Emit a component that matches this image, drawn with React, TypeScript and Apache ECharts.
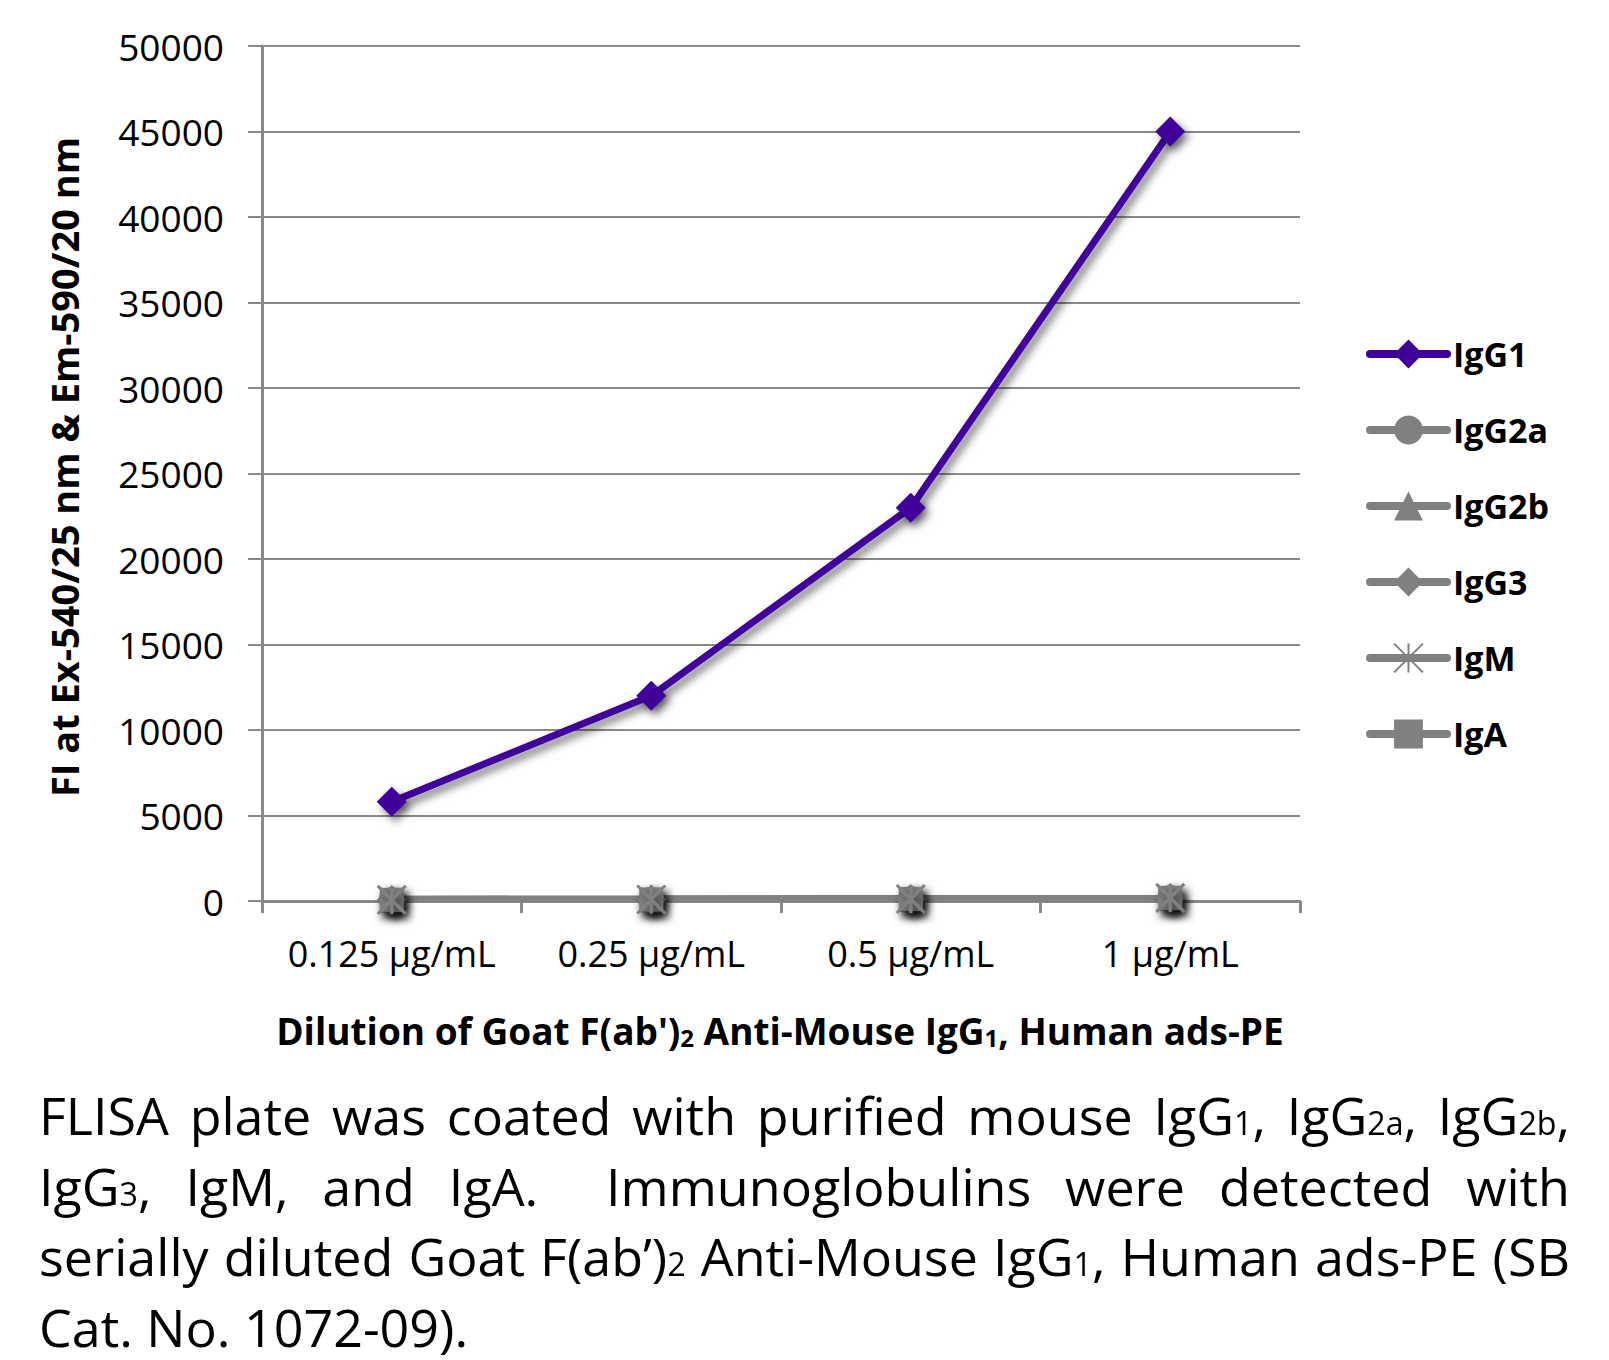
import React, { useEffect, useRef } from "react";
import * as echarts from "echarts";

const categories = ["0.125 µg/mL", "0.25 µg/mL", "0.5 µg/mL", "1 µg/mL"];
const igg1 = [5800, 12000, 23000, 45000];
const igg2a = [60, 80, 110, 170];
const igg2b = [70, 90, 120, 180];
const igg3 = [60, 85, 115, 175];
const igm = [65, 90, 120, 180];
const iga = [70, 95, 125, 185];
const yTicks = { min: 0, max: 50000, interval: 5000 };

const GRAY = "#808080";
const PURPLE = "#3F0099";
const FONT = "'Open Sans', 'Noto Sans', sans-serif";

const shadow = {
  shadowColor: "rgba(0,0,0,0.55)",
  shadowBlur: 8,
  shadowOffsetX: 4,
  shadowOffsetY: 5,
};

function graySeries(name: string, data: number[], symbol: string, size: number, extraItem?: any) {
  return {
    name,
    type: "line",
    data,
    symbol,
    symbolSize: size,
    lineStyle: { color: GRAY, width: 8, ...shadow },
    itemStyle: { color: GRAY, ...shadow, ...(extraItem || {}) },
    z: 2,
  };
}

const noShadow = { shadowBlur: 0, shadowColor: "transparent", shadowOffsetX: 0, shadowOffsetY: 0 };

export default function App() {
  const ref = useRef<HTMLDivElement>(null);
  useEffect(() => {
    if (!ref.current) return;
    const chart = echarts.init(ref.current, undefined, { renderer: "svg" });
    chart.setOption({
      animation: false,
      backgroundColor: "#ffffff",
      grid: { left: 262, right: 309, top: 46, bottom: 459, containLabel: false },
      xAxis: {
        type: "category",
        data: categories,
        boundaryGap: true,
        axisLine: { show: true, lineStyle: { color: "#898989", width: 3 } },
        axisTick: { show: true, interval: 0, length: 12, lineStyle: { color: "#898989", width: 3 } },
        axisLabel: { interval: 0, hideOverlap: false, fontSize: 36, color: "#000", fontFamily: FONT, margin: 34 },
      },
      yAxis: {
        type: "value",
        min: yTicks.min,
        max: yTicks.max,
        interval: yTicks.interval,
        axisLine: { show: true, lineStyle: { color: "#898989", width: 3 } },
        axisTick: { show: true, length: 14, lineStyle: { color: "#898989", width: 2 } },
        splitLine: { show: true, lineStyle: { color: "#898989", width: 2 } },
        axisLabel: {
          fontSize: 37,
          color: "#000",
          fontFamily: FONT,
          margin: 38,
          formatter: (v: number) => String(v),
        },
      },
      legend: {
        orient: "vertical",
        left: 1361,
        top: 328,
        padding: 5,
        itemWidth: 77,
        itemHeight: 36,
        itemGap: 34,
        textStyle: {
          fontSize: 34,
          fontWeight: "bold",
          color: "#000",
          fontFamily: FONT,
          lineHeight: 42,
          padding: [0, 0, 0, 1],
        },
        lineStyle: { width: 8, cap: "round", ...noShadow },
        itemStyle: { ...noShadow },
        data: ["IgG1", "IgG2a", "IgG2b", "IgG3", "IgM", "IgA"],
      },
      graphic: [
        {
          type: "text",
          x: 64,
          y: 467,
          rotation: Math.PI / 2,
          style: {
            text: "FI at Ex-540/25 nm & Em-590/20 nm",
            fontSize: 38,
            fontWeight: "bold",
            fontFamily: FONT,
            fill: "#000",
            align: "center",
            verticalAlign: "middle",
          },
        },
        {
          type: "text",
          x: 780,
          y: 1026,
          style: {
            text: "{a|Dilution of Goat F(ab')}{s|2}{a| Anti-Mouse IgG}{s|1}{a|, Human ads-PE}",
            align: "center",
            verticalAlign: "middle",
            rich: {
              a: { fontSize: 37, fontWeight: "bold", fontFamily: FONT, fill: "#000", verticalAlign: "bottom", lineHeight: 46 },
              s: { fontSize: 24, fontWeight: "bold", fontFamily: FONT, fill: "#000", verticalAlign: "bottom", lineHeight: 40 },
            },
          },
        },
      ],
      series: [
        graySeries("IgG2a", igg2a, "circle", 26),
        graySeries("IgG2b", igg2b, "triangle", 26),
        graySeries("IgG3", igg3, "diamond", 30),
        graySeries("IgA", iga, "rect", 24),
        graySeries("IgM", igm, "path://M0,0L20,20M20,0L0,20M10,0L10,20", 28, {
          color: "rgba(0,0,0,0)",
          borderColor: GRAY,
          borderWidth: 3,
        }),
        {
          name: "IgG1",
          type: "line",
          data: igg1,
          symbol: "diamond",
          symbolSize: 30,
          lineStyle: { color: PURPLE, width: 7, ...shadow },
          itemStyle: { color: PURPLE, ...shadow },
          z: 5,
        },
      ],
    });
    return () => chart.dispose();
  }, []);

  const capStyle: React.CSSProperties = {
    whiteSpace: "nowrap",
    textAlign: "justify",
    textAlignLast: "justify" as any,
    height: 70.5,
    lineHeight: "70.5px",
  };
  const sub: React.CSSProperties = { fontSize: "0.62em" };

  return (
    <div style={{ position: "fixed", left: 0, top: 0, width: 1609, height: 1360, background: "#fff" }}>
      <div ref={ref} style={{ position: "absolute", left: 0, top: 0, width: 1609, height: 1360 }} />
      <div
        style={{
          position: "absolute",
          left: 39,
          top: 1080,
          width: 1531,
          fontFamily: "'Open Sans', 'Noto Sans', sans-serif",
          fontSize: 52,
          color: "#000",
        }}
      >
        <div style={capStyle}>
          FLISA plate was coated with purified mouse IgG<span style={sub}>1</span>, IgG<span style={sub}>2a</span>, IgG<span style={sub}>2b</span>,
        </div>
        <div style={capStyle}>
          IgG<span style={sub}>3</span>, IgM, and IgA.&nbsp; Immunoglobulins were detected with
        </div>
        <div style={capStyle}>
          serially diluted Goat F(ab’)<span style={sub}>2</span> Anti-Mouse IgG<span style={sub}>1</span>, Human ads-PE (SB
        </div>
        <div style={{ ...capStyle, textAlign: "left", textAlignLast: "left" as any }}>Cat. No. 1072-09).</div>
      </div>
    </div>
  );
}
